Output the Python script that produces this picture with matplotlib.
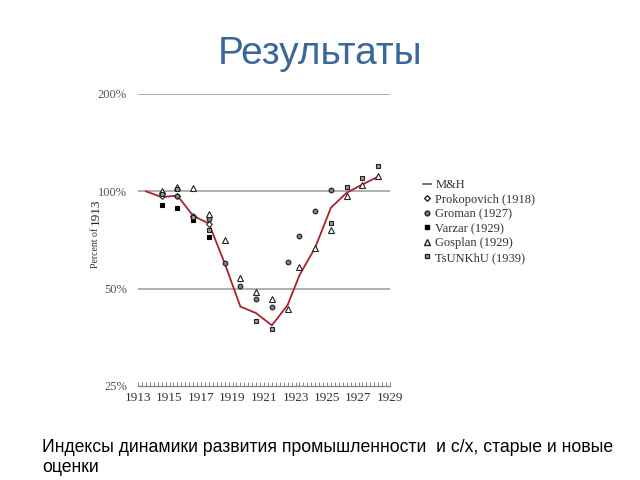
import matplotlib.pyplot as plt
from matplotlib.lines import Line2D
from matplotlib.ticker import FixedLocator, MultipleLocator
import numpy as np

# M&H line
years_mh = [1913.5, 1914.5, 1915.5, 1916.5, 1917.5, 1918.5, 1919.5, 1920.5, 1921.5,
            1922.5, 1923.25, 1924.25, 1925.25, 1926.25, 1927.25, 1928.25]
mh = [100, 96, 97, 84, 79.5, 60, 44, 42, 38.5, 44.5, 55, 67, 89, 99, 105, 111]

# other estimates
years_prok = [1914.5, 1915.5, 1916.5, 1917.5]
prok = [97, 97, 84, 79.5]

years_groman = [1914.5, 1915.5, 1916.5, 1917.5, 1918.5, 1919.5, 1920.5, 1921.5,
                1922.5, 1923.25, 1924.25, 1925.25]
groman = [98.5, 97, 83.5, 82, 60, 51, 46.6, 44, 60.5, 72.6, 86.8, 101]

years_varzar = [1914.5, 1915.5, 1916.5, 1917.5]
varzar = [91, 89, 81.5, 72]

years_gosplan = [1914.5, 1915.5, 1916.5, 1917.5, 1918.5, 1919.5, 1920.5, 1921.5,
                 1922.5, 1923.25, 1924.25, 1925.25, 1926.25, 1927.25, 1928.25]
gosplan = [100, 103, 102.7, 85, 70.6, 54, 48.7, 46.4, 43.4, 58.4, 66.7, 76, 96.5, 104.4, 111.3]

years_tsu = [1914.5, 1915.5, 1916.5, 1917.5, 1920.5, 1921.5, 1925.25, 1926.25, 1927.25, 1928.25]
tsu = [98, 101.4, 83, 76, 39.8, 37.5, 80, 103, 110, 119.4]

xticks = [1913, 1915, 1917, 1919, 1921, 1923, 1925, 1927, 1929]
yticks = [25, 50, 100, 200]
ylabels = ["25%", "50%", "100%", "200%"]

serif = "Liberation Serif"
sans = "Liberation Sans"

fig = plt.figure(figsize=(6.4, 4.8), dpi=100)
ax = fig.add_axes([138 / 640, 1 - 386 / 480, 252 / 640, 292 / 480])

ax.set_yscale("log", base=2)
ax.set_ylim(25, 200)
ax.set_xlim(1913, 1929)

for v in [50, 100, 200]:
    ax.axhline(v, color="#9a9a9a", lw=1.1, zorder=1)

ax.plot(years_mh, mh, color="#b0202a", lw=1.3, zorder=2)

mk = dict(ls="none", ms=3.4, mec="#222222", mew=0.8, zorder=3)
ax.plot(years_prok, prok, marker="D", mfc="white", **dict(mk, ms=2.9))
ax.plot(years_groman, groman, marker="o", mfc="#7f7f7f", **mk)
ax.plot(years_varzar, varzar, marker="s", mfc="black", **dict(mk, mec="black"))
ax.plot(years_gosplan, gosplan, marker="^", mfc="white", **dict(mk, ms=4.0))
ax.plot(years_tsu, tsu, marker="s", mfc="#9a9a9a", **mk)

for s in ["left", "right", "top"]:
    ax.spines[s].set_visible(False)
ax.spines["bottom"].set_color("#8a8a8a")
ax.spines["bottom"].set_linewidth(1.0)

ax.yaxis.set_major_locator(FixedLocator(yticks))
ax.yaxis.set_minor_locator(FixedLocator([]))
ax.set_yticklabels(ylabels)
ax.tick_params(axis="y", length=0, pad=8, labelsize=9, labelcolor="#555555")
for t in ax.get_yticklabels():
    t.set_family(serif)

ax.set_xticks(xticks)
ax.set_xticklabels([str(x) for x in xticks])
ax.xaxis.set_minor_locator(MultipleLocator(0.25))
ax.tick_params(axis="x", which="both", direction="in", length=3, width=0.6,
               color="#777777", labelsize=9.5, labelcolor="#333333", pad=4)
for t in ax.get_xticklabels():
    t.set_family(serif)

fig.text(96 / 640, 1 - 248 / 480, "Percent of", rotation=90, ha="center", va="center",
         family=serif, fontsize=7, color="#333333")
fig.text(96 / 640, 1 - 212 / 480, "1913", rotation=90, ha="center", va="center",
         family=serif, fontsize=9.5, color="#222222")

handles = [
    Line2D([], [], color="#666666", lw=1.3),
    Line2D([], [], marker="D", mfc="white", mec="#222222", ms=2.9, ls="none"),
    Line2D([], [], marker="o", mfc="#7f7f7f", mec="#222222", ms=3.4, ls="none"),
    Line2D([], [], marker="s", mfc="black", mec="black", ms=3.4, ls="none"),
    Line2D([], [], marker="^", mfc="white", mec="#222222", ms=4.0, ls="none"),
    Line2D([], [], marker="s", mfc="#9a9a9a", mec="#222222", ms=3.4, ls="none"),
]
labels = ["M&H", "Prokopovich (1918)", "Groman (1927)", "Varzar (1929)",
          "Gosplan (1929)", "TsUNKhU (1939)"]
leg = ax.legend(handles, labels, loc="upper left", bbox_to_anchor=(1.11, 0.725),
                frameon=False, handlelength=0.7, handletextpad=0.3, labelspacing=0.2,
                borderaxespad=0, prop={"family": serif, "size": 9.0})
for t in leg.get_texts():
    t.set_color("#333333")

fig.text(0.5, 1 - 54 / 480, "Результаты", ha="center", va="center",
         family=sans, fontsize=28, color="#3a679a")
fig.text(42 / 640, 1 - 448 / 480, "Индексы динамики развития промышленности  и с/х, старые и новые",
         ha="left", va="center", family=sans, fontsize=12.7, color="black")
fig.text(42 / 640, 1 - 467 / 480, "оценки",
         ha="left", va="center", family=sans, fontsize=12.7, color="black")

fig.savefig("out.png", dpi=100)
